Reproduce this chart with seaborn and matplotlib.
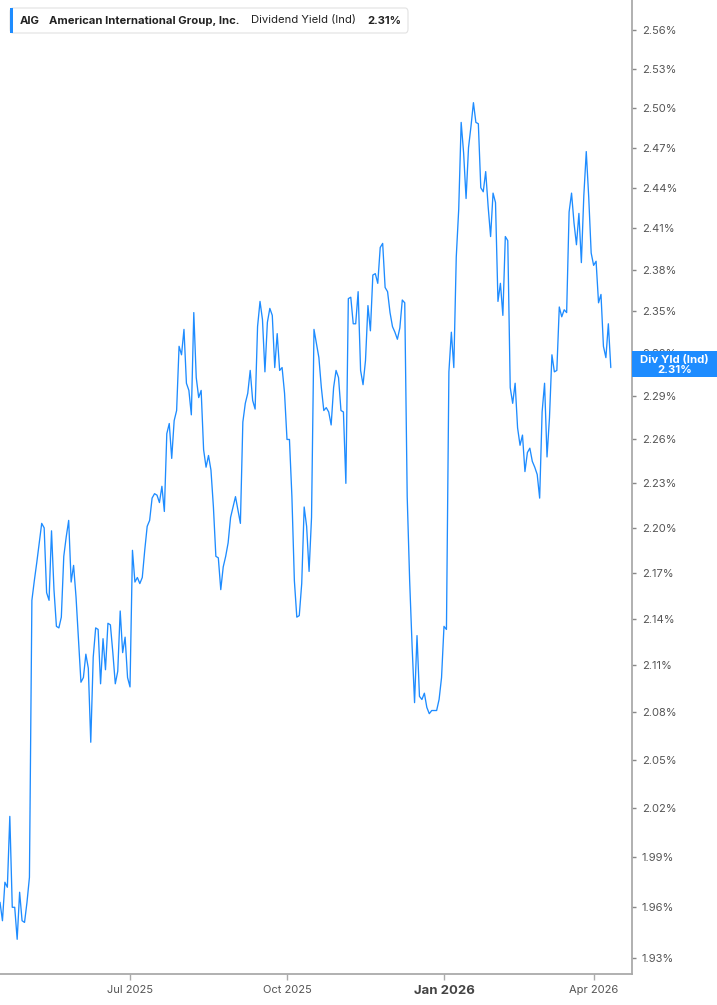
import numpy as np
import pandas as pd
import matplotlib
matplotlib.use("Agg")
import matplotlib.pyplot as plt
import seaborn as sns
from matplotlib.patches import Rectangle, FancyBboxPatch
from matplotlib.ticker import NullLocator

# AIG dividend yield (%), one value per trading day starting 2025-04-14
yield_pct = [
    1.963, 1.952, 1.975, 1.972, 2.015, 1.960, 1.960, 1.941, 1.969, 1.952,
    1.951, 1.963, 1.978, 2.152, 2.165, 2.177, 2.190, 2.203, 2.200, 2.157,
    2.152, 2.198, 2.159, 2.135, 2.134, 2.141, 2.181, 2.194, 2.205, 2.164,
    2.175, 2.154, 2.126, 2.099, 2.102, 2.117, 2.108, 2.061, 2.115, 2.134,
    2.133, 2.098, 2.127, 2.107, 2.137, 2.136, 2.118, 2.098, 2.106, 2.145,
    2.118, 2.128, 2.102, 2.096, 2.185, 2.164, 2.167, 2.163, 2.167, 2.185,
    2.201, 2.205, 2.220, 2.223, 2.222, 2.217, 2.228, 2.211, 2.264, 2.271,
    2.247, 2.273, 2.280, 2.325, 2.319, 2.337, 2.299, 2.294, 2.277, 2.349,
    2.303, 2.289, 2.294, 2.253, 2.241, 2.249, 2.239, 2.214, 2.181, 2.180,
    2.159, 2.174, 2.181, 2.190, 2.207, 2.214, 2.221, 2.212, 2.203, 2.272,
    2.285, 2.292, 2.308, 2.287, 2.281, 2.339, 2.357, 2.344, 2.307, 2.342,
    2.352, 2.347, 2.310, 2.334, 2.308, 2.310, 2.292, 2.260, 2.260, 2.221,
    2.165, 2.141, 2.142, 2.163, 2.214, 2.201, 2.171, 2.207, 2.337, 2.327,
    2.317, 2.296, 2.280, 2.282, 2.279, 2.270, 2.296, 2.308, 2.303, 2.280,
    2.279, 2.230, 2.359, 2.360, 2.341, 2.341, 2.364, 2.308, 2.298, 2.315,
    2.354, 2.336, 2.376, 2.377, 2.370, 2.396, 2.399, 2.367, 2.364, 2.349,
    2.339, 2.335, 2.330, 2.338, 2.358, 2.356, 2.221, 2.165, 2.122, 2.086,
    2.129, 2.090, 2.088, 2.092, 2.083, 2.079, 2.081, 2.081, 2.081, 2.088,
    2.102, 2.135, 2.133, 2.307, 2.335, 2.310, 2.389, 2.424, 2.489, 2.466,
    2.432, 2.470, 2.486, 2.504, 2.489, 2.488, 2.440, 2.437, 2.452, 2.426,
    2.404, 2.436, 2.429, 2.357, 2.370, 2.347, 2.404, 2.401, 2.296, 2.285,
    2.299, 2.268, 2.256, 2.263, 2.238, 2.251, 2.254, 2.245, 2.241, 2.236,
    2.220, 2.279, 2.299, 2.248, 2.275, 2.319, 2.307, 2.308, 2.353, 2.346,
    2.351, 2.349, 2.422, 2.436, 2.414, 2.398, 2.421, 2.385, 2.434, 2.467,
    2.433, 2.392, 2.383, 2.386, 2.356, 2.362, 2.325, 2.317, 2.341, 2.310,
]
start_date = "2025-04-14"
market_holidays = [
    "2025-04-18", "2025-05-26", "2025-06-19", "2025-07-04", "2025-09-01",
    "2025-11-27", "2025-12-25", "2026-01-01", "2026-01-19", "2026-02-16",
    "2026-04-03",
]
y_ticks = [1.93, 1.96, 1.99, 2.02, 2.05, 2.08, 2.11, 2.14, 2.17, 2.20, 2.23,
           2.26, 2.29, 2.32, 2.35, 2.38, 2.41, 2.44, 2.47, 2.50, 2.53, 2.56]
tick_months = ["2025-07", "2025-10", "2026-01", "2026-04"]
tick_labels = ["Jul 2025", "Oct 2025", "Jan 2026", "Apr 2026"]
last_value = "2.31%"

dates = pd.bdate_range(start_date, periods=len(yield_pct), freq="C", holidays=market_holidays)
df = pd.DataFrame({"day": np.arange(len(dates)), "date": dates, "yield": yield_pct})

sns.set_style("white")
plt.rcParams["font.family"] = ["Inter", "DejaVu Sans"]

W, H = 717, 1005
fig = plt.figure(figsize=(W / 100, H / 100), dpi=100)
ax = fig.add_axes([0, 31 / H, 632 / W, 974 / H])

blue = "#1e8cff"
sns.lineplot(data=df, x="day", y="yield", color=blue, linewidth=0.95, ax=ax)

ax.set_yscale("log")
ax.set_ylim(1.9206, 2.5835)
ax.set_xlim(0, 632 / 2.453)
ax.yaxis.tick_right()
ax.set_yticks(y_ticks)
ax.set_yticklabels([f"{v:.2f}%" for v in y_ticks])
ax.yaxis.set_minor_locator(NullLocator())

tick_pos = [int(df.index[df["date"].dt.strftime("%Y-%m") == m][0]) for m in tick_months]
ax.set_xticks(tick_pos)
ax.set_xticklabels(tick_labels)
ax.set_xlabel("")
ax.set_ylabel("")

for s in ["top", "left"]:
    ax.spines[s].set_visible(False)
for s in ["right", "bottom"]:
    ax.spines[s].set_color("#aaaaaa")
    ax.spines[s].set_linewidth(1.3)

ax.tick_params(axis="y", right=True, length=3, width=1, color="#888888",
               labelsize=8, labelcolor="#555555", pad=4)
ax.tick_params(axis="x", bottom=True, length=4, width=1, color="#aaaaaa",
               labelsize=8, labelcolor="#555555", pad=4)
for lab in ax.get_xticklabels():
    if lab.get_text() == "Jan 2026":
        lab.set_fontweight("bold")
        lab.set_fontsize(9.5)
        lab.set_color("#444444")


def px(x, y):
    return x / W, 1 - y / H


# header box
hx, hy = px(10, 33)
fig.patches.append(FancyBboxPatch((hx, hy), 398 / W, 25 / H,
                                  boxstyle="round,pad=0,rounding_size=0.004",
                                  transform=fig.transFigure, facecolor="white",
                                  edgecolor="#e2e2e2", linewidth=0.8, zorder=5))
fig.patches.append(Rectangle((hx, hy), 3 / W, 25 / H, transform=fig.transFigure,
                             facecolor=blue, edgecolor="none", zorder=6))
head = [(20, "AIG", "bold"), (49, "American International Group, Inc.", "bold"),
        (251, "Dividend Yield (Ind)", "normal"), (367, last_value, "bold")]
for x, t, w in head:
    tx, ty = px(x, 20.5)
    fig.text(tx, ty, t, ha="left", va="center", fontsize=8.1, fontweight=w,
             color="#222222", zorder=7)

# right value tag
rx, ry = px(632, 377)
fig.patches.append(Rectangle((rx, ry), 85 / W, 26 / H, transform=fig.transFigure,
                             facecolor=blue, edgecolor="none", zorder=5))
tx, ty = px(674.5, 364.5)
fig.text(tx, ty, "Div Yld (Ind)\n" + last_value, ha="center", va="center",
         fontsize=8.2, fontweight="bold", color="white", linespacing=1.0, zorder=6)

fig.savefig("out.png", dpi=100, facecolor="white")
